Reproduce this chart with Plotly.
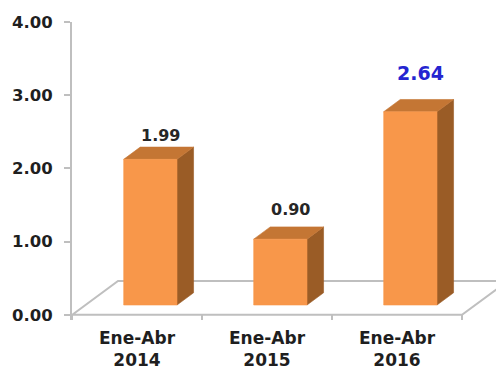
import plotly.graph_objects as go

# Data
periods = ["Ene-Abr<br>2014", "Ene-Abr<br>2015", "Ene-Abr<br>2016"]
values = [1.99, 0.90, 2.64]
value_labels = ["1.99", "0.90", "2.64"]
y_ticks = [0, 1, 2, 3, 4]

# Styling
FRONT = "#F8974A"
TOP = "#C47634"
SIDE = "#9A5C26"
AXIS = "#BFBFBF"
FONT = "DejaVu Sans"
label_colors = ["#262626", "#262626", "#2525D0"]
label_sizes = [16, 16, 19]
label_lift = [16, 22, 31]  # px above the top face

# Pseudo-3D geometry (category units / value units)
DEPTH_X, DEPTH_Y = 0.354, 0.464   # full floor depth vector
Z_FRONT, Z_BACK = 0.29, 0.65      # bar front/back as fraction of depth
BAR_W = 0.41

fig = go.Figure()

n = len(values)
x_left, x_right = -0.5, n - 0.5

# Floor outline and category tick marks
floor_x = [x_left, x_right, x_right + DEPTH_X, x_left + DEPTH_X, x_left]
floor_y = [0, 0, DEPTH_Y, DEPTH_Y, 0]
fig.add_trace(go.Scatter(x=floor_x, y=floor_y, mode="lines",
                         line=dict(color=AXIS, width=2), hoverinfo="skip"))
tick_x, tick_y = [], []
for b in range(n + 1):
    tick_x += [x_left + b, x_left + b, None]
    tick_y += [0, -0.07, None]
fig.add_trace(go.Scatter(x=tick_x, y=tick_y, mode="lines",
                         line=dict(color=AXIS, width=2), hoverinfo="skip"))

def poly(xs, ys, color):
    fig.add_trace(go.Scatter(x=xs + [xs[0]], y=ys + [ys[0]], mode="lines",
                             fill="toself", fillcolor=color,
                             line=dict(width=0.6, color=color), hoverinfo="skip"))

lab_x, lab_y = [], []
for i, v in enumerate(values):
    fx0 = i - BAR_W / 2 + Z_FRONT * DEPTH_X
    fx1 = fx0 + BAR_W
    fy0 = Z_FRONT * DEPTH_Y
    fy1 = v + fy0
    ddx = (Z_BACK - Z_FRONT) * DEPTH_X
    ddy = (Z_BACK - Z_FRONT) * DEPTH_Y
    # side face
    poly([fx1, fx1 + ddx, fx1 + ddx, fx1], [fy0, fy0 + ddy, fy1 + ddy, fy1], SIDE)
    # top face
    poly([fx0, fx1, fx1 + ddx, fx0 + ddx], [fy1, fy1, fy1 + ddy, fy1 + ddy], TOP)
    # front face
    poly([fx0, fx1, fx1, fx0], [fy0, fy0, fy1, fy1], FRONT)
    lab_x.append((fx0 + fx1) / 2 + ddx / 2)
    lab_y.append(fy1 + ddy / 2)

for i in range(n):
    fig.add_annotation(x=lab_x[i], y=lab_y[i], text=value_labels[i],
                       showarrow=False, yshift=label_lift[i] + 2, xshift=2,
                       font=dict(family=FONT, size=label_sizes[i],
                                 color=label_colors[i], weight="bold"))

fig.update_layout(
    width=496, height=369,
    margin=dict(l=72, r=0, t=22, b=49),
    paper_bgcolor="white", plot_bgcolor="white",
    showlegend=False,
    xaxis=dict(range=[x_left, x_right + 34 / 130], tickmode="array",
               tickvals=list(range(n)), ticktext=periods, ticks="",
               showline=False, showgrid=False, zeroline=False,
               ticklabelstandoff=6, automargin=False,
               tickfont=dict(family=FONT, size=17, color="#1F1F1F", weight="bold")),
    yaxis=dict(range=[-0.07, 4], tickmode="array", tickvals=y_ticks,
               tickformat=".2f", ticks="outside", ticklen=6, tickwidth=2,
               tickcolor=AXIS, showline=True, linecolor=AXIS, linewidth=2,
               showgrid=False, zeroline=False, ticklabelstandoff=8,
               automargin=False,
               tickfont=dict(family=FONT, size=16.5, color="#1F1F1F", weight="bold")),
)

fig.write_html("out.html")
